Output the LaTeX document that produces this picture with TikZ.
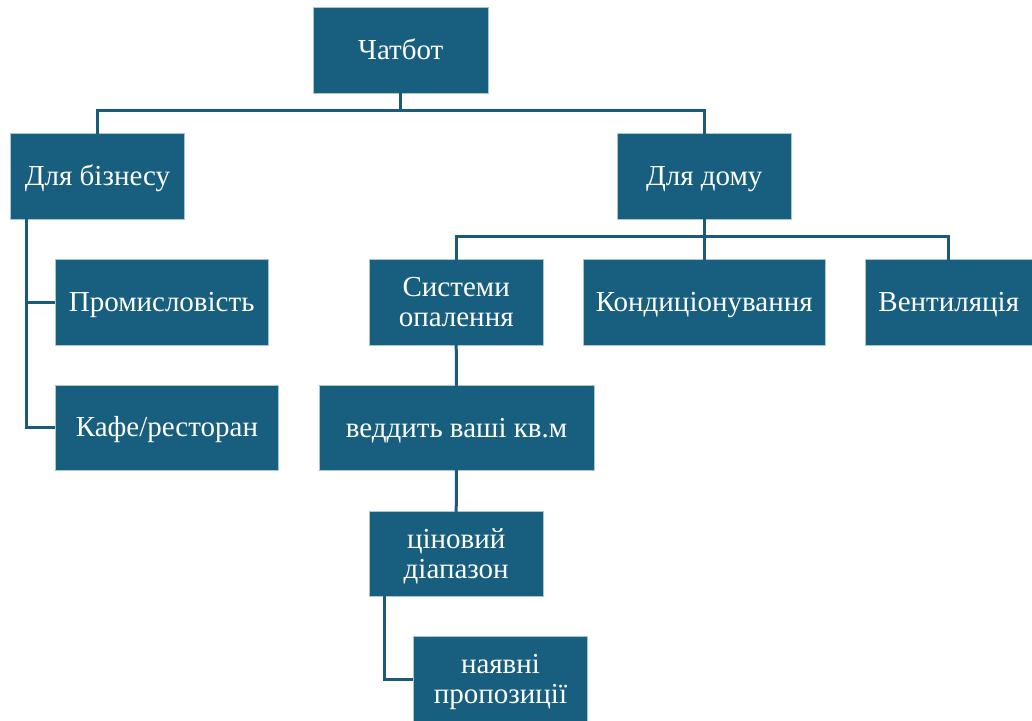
\documentclass[tikz,border=0pt]{standalone}
\usepackage{fontspec}
\setmainfont{Liberation Serif}
\newfontfamily\boxfont{Liberation Serif}
\newcommand\bstrut{\rule[-5.9pt]{0pt}{30pt}}
\definecolor{boxfill}{HTML}{175E7F}
\definecolor{boxedge}{HTML}{A9C6D6}
\definecolor{linkcol}{HTML}{1B5B7A}
\begin{document}
\begin{tikzpicture}[x=1pt,y=-1pt,
  box/.style={rectangle, fill=boxfill, draw=boxedge, line width=0.6pt, inner sep=0pt,
    text=white, align=center, font=\boxfont\fontsize{29}{30}\selectfont, minimum height=85.7pt},
  link/.style={draw=linkcol, line width=3pt}]
\useasboundingbox (0,0) rectangle (1032,720);
\clip (0,0) rectangle (1032,720);
\node[box, minimum width=175pt] (chat) at (400.8,50) {\bstrut Чатбот};
\node[box, minimum width=173.6pt] (biz) at (97.5,176.2) {\bstrut Для бізнесу};
\node[box, minimum width=173.7pt] (home) at (704.2,176.2) {\bstrut Для дому};
\node[box, minimum width=213.3pt] (prom) at (161.7,302.2) {\bstrut Промисловість};
\node[box, minimum width=223.7pt] (cafe) at (166.9,427.9) {\bstrut Кафе/ресторан};
\node[box, minimum width=174.3pt] (heat) at (456.2,302.2) {\bstrut Системи\\\bstrut опалення};
\node[box, minimum width=241.7pt] (cond) at (704.2,302.2) {\bstrut Кондиціонування};
\node[box, minimum width=166.3pt] (vent) at (948.8,302.2) {\bstrut Вентиляція};
\node[box, minimum width=275pt] (area) at (456.5,427.9) {\bstrut веддить ваші кв.м};
\node[box, minimum width=174.3pt] (price) at (456.2,553.9) {\bstrut ціновий\\\bstrut діапазон};
\node[box, minimum width=174.4pt] (offers) at (500.5,679.6) {\bstrut наявні\\\bstrut пропозиції};
% connectors
\draw[link] ([yshift=2]chat.south) -- ++(0,19.5) coordinate (j1);
\draw[link] ([yshift=-1]biz.north) |- (j1) -| ([yshift=-1]home.north);
\coordinate (b1) at ([xshift=16,yshift=2]biz.south west);
\draw[link] (b1) |- (prom.west);
\draw[link] (b1) |- (cafe.west);
\draw[link] ([yshift=2]home.south) -- ++(0,19.5) coordinate (j2);
\draw[link] ([yshift=-1]heat.north) |- (j2) -| ([yshift=-1]vent.north);
\draw[link] (j2) -- ([yshift=-1]cond.north);
\draw[link] ([yshift=2]heat.south) -- ([yshift=-1]area.north);
\draw[link] ([yshift=2]area.south) -- ([yshift=-1]price.north);
\coordinate (p1) at ([xshift=16,yshift=2]price.south west);
\draw[link] (p1) |- (offers.west);
\end{tikzpicture}
\end{document}
